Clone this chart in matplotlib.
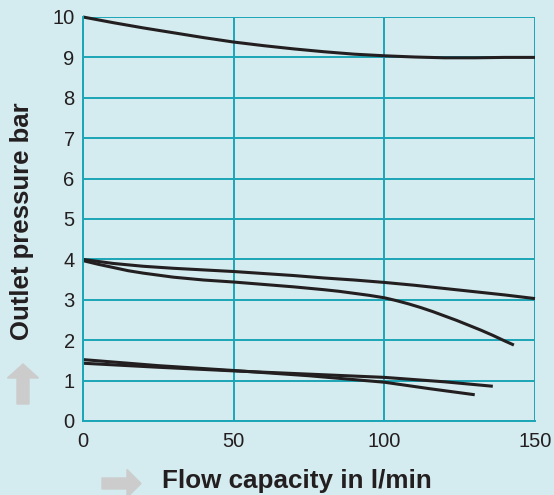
import matplotlib
matplotlib.use("Agg")
import matplotlib.pyplot as plt
from matplotlib.patches import FancyArrow

plt.rcParams['font.family'] = ['Liberation Sans', 'DejaVu Sans']

# Data
curve_a_x = [0, 10, 20, 30, 40, 50, 60, 70, 80, 90, 100, 110, 120, 130, 140, 150]
curve_a_y = [10.0, 9.86, 9.73, 9.61, 9.49, 9.38, 9.29, 9.21, 9.14, 9.08, 9.04, 9.01, 8.99, 8.99, 9.0, 9.0]

curve_b_x = [0, 10, 20, 30, 40, 50, 60, 70, 80, 90, 100, 110, 120, 130, 140, 150]
curve_b_y = [4.0, 3.9, 3.83, 3.78, 3.74, 3.70, 3.65, 3.60, 3.54, 3.49, 3.43, 3.36, 3.28, 3.20, 3.12, 3.03]

curve_c_x = [0, 5, 10, 15, 20, 30, 40, 50, 60, 70, 80, 85, 90, 95, 100, 104, 108, 112, 116, 120, 124, 128, 132, 136, 140, 143]
curve_c_y = [3.97, 3.88, 3.80, 3.72, 3.66, 3.56, 3.49, 3.44, 3.38, 3.32, 3.25, 3.21, 3.16, 3.11, 3.05, 2.98, 2.90, 2.81, 2.71, 2.60, 2.49, 2.37, 2.25, 2.12, 1.98, 1.88]

curve_d_x = [0, 25, 50, 75, 100, 120, 136]
curve_d_y = [1.43, 1.33, 1.24, 1.16, 1.08, 0.97, 0.86]

curve_e_x = [0, 25, 50, 75, 100, 115, 130]
curve_e_y = [1.52, 1.37, 1.25, 1.12, 0.96, 0.80, 0.65]

x_ticks = [0, 50, 100, 150]
y_ticks = list(range(0, 11))

bg = '#d4ebef'
grid_c = '#1aa6b7'
text_c = '#231f20'
arrow_c = '#cccccc'

fig = plt.figure(figsize=(5.54, 4.95), dpi=100, facecolor=bg)
ax = fig.add_axes([83/554, 74/495, 452/554, 404/495])
ax.set_facecolor(bg)
ax.set_xlim(0, 150)
ax.set_ylim(0, 10)
ax.set_xticks(x_ticks)
ax.set_yticks(y_ticks)
ax.grid(True, color=grid_c, linewidth=1.4)
for s in ['top', 'right']:
    ax.spines[s].set_visible(False)
for s in ['left', 'bottom']:
    ax.spines[s].set_color(grid_c)
    ax.spines[s].set_linewidth(1.4)
ax.tick_params(length=0, labelsize=14.5, labelcolor=text_c)
ax.tick_params(axis='x', pad=8)
ax.tick_params(axis='y', pad=6)

for xs, ys in [(curve_a_x, curve_a_y), (curve_b_x, curve_b_y), (curve_c_x, curve_c_y),
               (curve_d_x, curve_d_y), (curve_e_x, curve_e_y)]:
    ax.plot(xs, ys, color=text_c, linewidth=2.2, solid_capstyle='butt',
            solid_joinstyle='round', clip_on=False)

fig.text(22.5/554, 1 - 221.5/495, 'Outlet pressure bar', rotation=90, ha='center', va='center',
         fontsize=18.5, fontweight='bold', color=text_c)
fig.text(162/554, 1 - 481/495, 'Flow capacity in l/min', ha='left', va='center',
         fontsize=18.7, fontweight='bold', color=text_c)

# arrows (in figure pixel coords)
W, H = 554, 495
up = FancyArrow(23/W, 1 - 404/H, 0, (404 - 364)/H, width=12/W, head_width=31/W,
                head_length=14/H, length_includes_head=True, color=arrow_c,
                transform=fig.transFigure, figure=fig)
right = FancyArrow(102/W, 1 - 483.5/H, (141 - 102)/W, 0, width=11/H, head_width=28/H,
                   head_length=14/W, length_includes_head=True, color=arrow_c,
                   transform=fig.transFigure, figure=fig)
fig.patches.extend([up, right])

fig.savefig('out.png', dpi=100, facecolor=bg)
